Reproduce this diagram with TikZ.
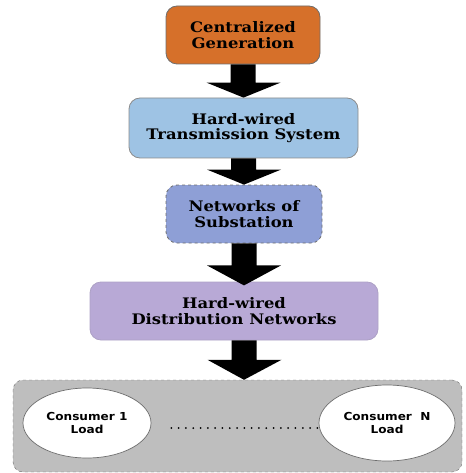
\documentclass[tikz,border=0pt]{standalone}
\usepackage{fontspec}
\setmainfont{DejaVu Serif}
\newfontfamily\stagefont[FakeStretch=1.13]{DejaVu Serif}
\newfontfamily\consfont[FakeStretch=1.1]{DejaVu Sans}
\usetikzlibrary{calc,shapes.geometric}
\definecolor{cgorange}{HTML}{D6702A}
\definecolor{tsblue}{HTML}{9EC3E4}
\definecolor{nsblue}{HTML}{8E9FD6}
\definecolor{dnpurple}{HTML}{B8A9D6}
\definecolor{lgray}{HTML}{BEBEBE}
\definecolor{bordgray}{HTML}{6E6E6E}
\tikzset{
  stagebox/.style={draw=bordgray, line width=0.8pt, rounded corners=11pt, align=center,
    font=\stagefont\bfseries\fontsize{14.5}{15.5}\selectfont, inner sep=0pt},
  consumer/.style={ellipse, draw=bordgray, line width=0.7pt, fill=white, inner sep=0pt,
    align=center, font=\consfont\bfseries\fontsize{11}{13.5}\selectfont},
  blockarrow/.style={fill=black},
}
\begin{document}
\begin{tikzpicture}[x=1pt,y=-1pt]
\useasboundingbox (0,0) rectangle (465,473);
\node[stagebox, fill=cgorange, minimum width=154pt, minimum height=58pt] (cg) at (243,35)
  {Centralized\\Generation};
\node[stagebox, fill=tsblue, draw=bordgray!80, minimum width=229pt, minimum height=60pt] (ts) at (243.5,128)
  {Hard-wired\\Transmission System};
\node[stagebox, fill=nsblue, dashed, minimum width=156pt, minimum height=58pt] (ns) at (244,214)
  {Networks of\\Substation};
\node[stagebox, fill=dnpurple, draw=dnpurple!80!gray, minimum width=288pt, minimum height=58pt] (dn) at (234,311)
  {Hard-wired\\Distribution Networks};
\node[draw=bordgray, dashed, fill=lgray, rounded corners=10pt, minimum width=449pt, minimum height=92pt, inner sep=0pt] (load) at (237.5,426) {};
\node[consumer, minimum width=128pt, minimum height=70pt] (c1) at (87,423) {Consumer 1\\Load};
\node[consumer, minimum width=136pt, minimum height=76pt] (cn) at (387,423) {Consumer\ \ N\\Load};
\draw[line width=2pt, line cap=round, dash pattern=on 0pt off 7.3pt] ($(c1.east)+(20,5)$) coordinate (d1) -- (d1 -| cn.west);
\fill[blockarrow] ($(cg.south)+(-12.5,0)$) -- ++(25,0) |- ($(ts.north)+(37,-15)$) -- (ts.north) -- ($(ts.north)+(-37,-15)$) -| cycle;
\fill[blockarrow] ($(ts.south)+(-12.5,0)$) -- ++(25,0) |- ($(ns.north)+(37,-15)$) -- (ns.north) -- ($(ns.north)+(-37,-15)$) -| cycle;
\fill[blockarrow] ($(ns.south)+(-12.5,0)$) -- ++(25,0) |- ($(ns.south)+(37,22)$) -- ($(ns.south)+(0,42)$) -- ($(ns.south)+(-37,22)$) -| cycle;
\fill[blockarrow] ($(dn.south)+(-2.5,0)$) -- ++(25,0) |- ($(load.north)+(44,-20)$) -- ($(load.north)+(6.5,0)$) -- ($(load.north)+(-30,-20)$) -| cycle;
\end{tikzpicture}
\end{document}
